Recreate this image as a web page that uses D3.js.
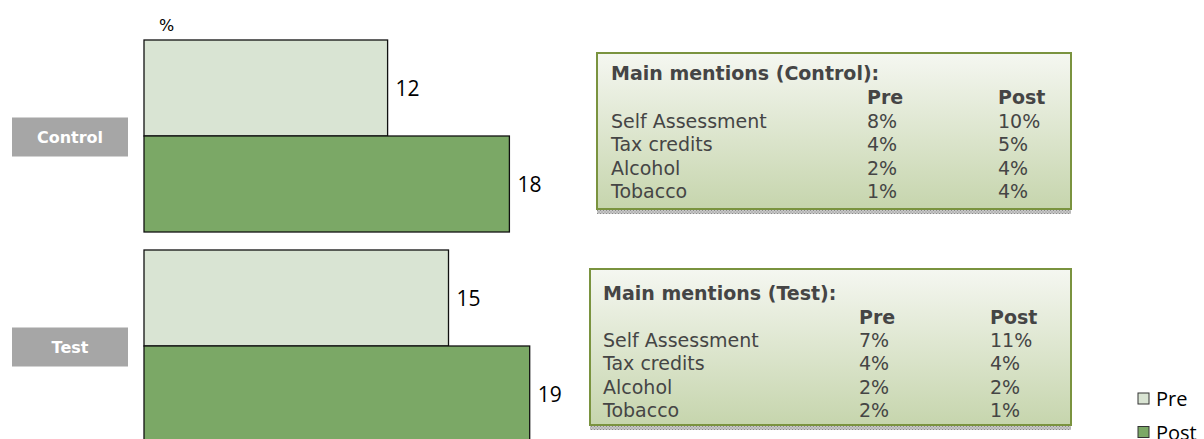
<!DOCTYPE html>
<html lang="en">
<head>
  <meta charset="utf-8" />
  <title>Main mentions - Pre / Post</title>
  <script src="https://cdn.jsdelivr.net/npm/d3@7"></script>
  <style>
html, body{
  margin: 0;
  padding: 0;
  background: #ffffff;
}
svg{
  display: block;
}
  </style>
</head>
<body>
  <svg id="chart"></svg>
  <script>
  // chart data
  const groups = ['Control', 'Test'];
  const series = ['Pre', 'Post'];
  const preValues = [12, 15];
  const postValues = [18, 19];

  // side tables
  const mentionItems = ['Self Assessment', 'Tax credits', 'Alcohol', 'Tobacco'];
  const controlPre = ['8%', '4%', '2%', '1%'];
  const controlPost = ['10%', '5%', '4%', '4%'];
  const testPre = ['7%', '4%', '2%', '2%'];
  const testPost = ['11%', '4%', '2%', '1%'];

  const colors = {Pre: '#d9e4d3', Post: '#7ba866'};

  const width = 1204, height = 439;
  const svg = d3.select('#chart')
      .attr('width', width)
      .attr('height', height);

  const defs = svg.append('defs');
  const grad = defs.append('linearGradient')
      .attr('id', 'boxGrad')
      .attr('x1', 0).attr('y1', 0).attr('x2', 0).attr('y2', 1);
  grad.append('stop').attr('offset', '0%').attr('stop-color', '#f5f7f1');
  grad.append('stop').attr('offset', '100%').attr('stop-color', '#c6d5ad');

  const hatch = defs.append('pattern')
      .attr('id', 'hatch')
      .attr('patternUnits', 'userSpaceOnUse')
      .attr('width', 3).attr('height', 3);
  hatch.append('rect').attr('width', 3).attr('height', 3).attr('fill', '#c8c8c8');
  hatch.append('rect').attr('width', 1).attr('height', 1).attr('fill', '#8a8a8a');
  hatch.append('rect').attr('x', 1.5).attr('y', 1.5).attr('width', 1).attr('height', 1).attr('fill', '#8a8a8a');

  // scales
  const x = d3.scaleLinear().domain([0, 25]).range([144, 651.5]);
  const y = d3.scaleBand().domain(groups).range([40, 442]).paddingInner(18 / 210);
  const ySub = d3.scaleBand().domain(series).range([0, y.bandwidth()]);

  const rows = groups.map((g, i) => ({group: g, Pre: preValues[i], Post: postValues[i]}));

  // % label
  svg.append('text')
      .attr('x', 159)
      .attr('y', 31)
      .attr('font-family', 'DejaVu Sans, sans-serif')
      .attr('font-size', 16)
      .attr('fill', '#000')
      .text('%');

  const grp = svg.append('g').selectAll('g')
    .data(rows)
    .enter().append('g')
      .attr('transform', d => `translate(0,${y(d.group)})`);

  const bar = grp.selectAll('g.bar')
    .data(d => series.map(s => ({series: s, value: d[s]})))
    .enter().append('g')
      .attr('class', 'bar');

  bar.append('rect')
      .attr('x', x(0))
      .attr('y', d => ySub(d.series))
      .attr('width', d => x(d.value) - x(0))
      .attr('height', ySub.bandwidth())
      .attr('fill', d => colors[d.series])
      .attr('stroke', '#111')
      .attr('stroke-width', 1.3);

  bar.append('text')
      .attr('x', d => x(d.value) + 8)
      .attr('y', d => ySub(d.series) + ySub.bandwidth() / 2)
      .attr('dy', '0.36em')
      .attr('font-family', 'Open Sans, sans-serif')
      .attr('font-size', 21)
      .attr('fill', '#000')
      .text(d => d.value);

  // group labels, centred on the group
  grp.append('rect')
      .attr('x', 12)
      .attr('y', y.bandwidth() / 2 - 18.5)
      .attr('width', 116)
      .attr('height', 39)
      .attr('fill', '#a6a6a6');

  grp.append('text')
      .attr('x', 70)
      .attr('y', y.bandwidth() / 2 + 1)
      .attr('dy', '0.36em')
      .attr('text-anchor', 'middle')
      .attr('font-family', 'DejaVu Sans, sans-serif')
      .attr('font-weight', 'bold')
      .attr('font-size', 16)
      .attr('fill', '#ffffff')
      .text(d => d.group);

  // mention tables
  function drawTable(opt){
    const g = svg.append('g');
    g.append('rect')
        .attr('x', opt.x).attr('y', opt.y + opt.h + 1)
        .attr('width', opt.w).attr('height', 4)
        .attr('fill', 'url(#hatch)');
    g.append('rect')
        .attr('x', opt.x).attr('y', opt.y)
        .attr('width', opt.w).attr('height', opt.h)
        .attr('fill', 'url(#boxGrad)')
        .attr('stroke', '#7a933f')
        .attr('stroke-width', 2);

    const txt = g.append('g')
        .attr('font-family', 'DejaVu Sans, Verdana, sans-serif')
        .attr('font-size', 19)
        .attr('fill', '#454545');

    const line = i => opt.y + opt.top + i * opt.step;

    txt.append('text')
        .attr('x', opt.tx).attr('y', line(0)).attr('dy', '0.36em')
        .attr('font-weight', 'bold')
        .text(opt.title);
    txt.append('text')
        .attr('x', opt.preX).attr('y', line(1)).attr('dy', '0.36em')
        .attr('font-weight', 'bold')
        .text('Pre');
    txt.append('text')
        .attr('x', opt.postX).attr('y', line(1)).attr('dy', '0.36em')
        .attr('font-weight', 'bold')
        .text('Post');

    mentionItems.forEach((item, i) => {
      txt.append('text').attr('x', opt.tx).attr('y', line(i + 2)).attr('dy', '0.36em').text(item);
      txt.append('text').attr('x', opt.preX).attr('y', line(i + 2)).attr('dy', '0.36em').text(opt.pre[i]);
      txt.append('text').attr('x', opt.postX).attr('y', line(i + 2)).attr('dy', '0.36em').text(opt.post[i]);
    });
  }

  drawTable({
    title: 'Main mentions (Control):', pre: controlPre, post: controlPost,
    x: 597, y: 53, w: 474, h: 156, tx: 611, top: 20.5, step: 23.6, preX: 867, postX: 998
  });
  drawTable({
    title: 'Main mentions (Test):', pre: testPre, post: testPost,
    x: 590, y: 269, w: 481, h: 156, tx: 603, top: 24.5, step: 23.3, preX: 859, postX: 990
  });

  // legend (the reference crops the second entry at the bottom edge)
  const legend = svg.append('g').selectAll('g')
    .data(series)
    .enter().append('g')
      .attr('transform', (d, i) => `translate(1138,${393 + i * 33.5})`);

  legend.append('rect')
      .attr('width', 11)
      .attr('height', 11)
      .attr('fill', d => colors[d])
      .attr('stroke', '#333')
      .attr('stroke-width', 1);

  legend.append('text')
      .attr('x', 18)
      .attr('y', 6)
      .attr('dy', '0.36em')
      .attr('font-family', 'Open Sans, sans-serif')
      .attr('font-size', 20)
      .attr('fill', '#000')
      .text(d => d);
  </script>
</body>
</html>
